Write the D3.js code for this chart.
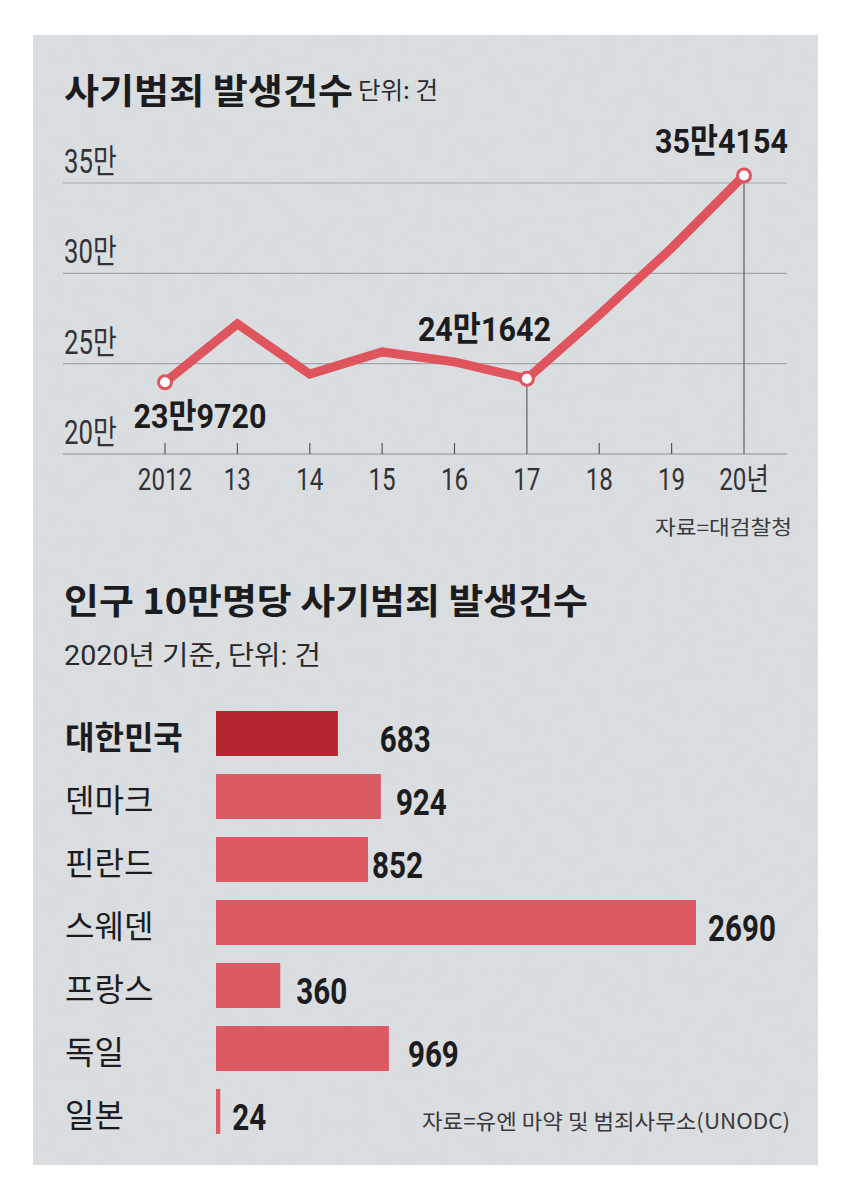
<!DOCTYPE html>
<html>
<head>
<meta charset="utf-8">
<script src="https://cdn.jsdelivr.net/npm/d3@7"></script>
<style>
  html, body { margin: 0; padding: 0; background: #ffffff; }
  svg { display: block; }
</style>
</head>
<body>
<svg id="chart" width="850" height="1180"></svg>
<script>
// ---------------- DATA ----------------
const years = [2012, 2013, 2014, 2015, 2016, 2017, 2018, 2019, 2020];
const yearLabels = ["2012", "13", "14", "15", "16", "17", "18", "19", "20년"];
const fraudCounts = [239720, 272000, 244200, 256500, 251000, 241642, 277000, 314000, 354154];
const yTicks = [200000, 250000, 300000, 350000];
const yTickLabels = ["20만", "25만", "30만", "35만"];
const markedYears = [2012, 2017, 2020];
const markedLabels = ["23만9720", "24만1642", "35만4154"];

const countries = ["대한민국", "덴마크", "핀란드", "스웨덴", "프랑스", "독일", "일본"];
const fraudPer100k = [683, 924, 852, 2690, 360, 969, 24];

// ---------------- STYLE / LAYOUT ----------------
const FONT_KR = "'Noto Sans CJK KR', 'Noto Sans', sans-serif";
const FONT_DIGIT = "Roboto, 'Noto Sans CJK KR', sans-serif";
const LINE_RED = "#e0545d";
const BAR_RED = "#dc5a63";
const KOREA_RED = "#b3262f";
const INK = "#1c1c1e";
const TICK_INK = "#333336";

const svg = d3.select("#chart");

// background panel with concrete-like texture
const defs = svg.append("defs");
const f = defs.append("filter").attr("id", "grain").attr("x", 0).attr("y", 0).attr("width", "100%").attr("height", "100%");
f.append("feTurbulence").attr("type", "fractalNoise").attr("baseFrequency", 0.06).attr("numOctaves", 5).attr("seed", 7).attr("result", "n");
f.append("feColorMatrix").attr("in", "n").attr("type", "matrix")
  .attr("values", "0 0 0 0 0.6  0 0 0 0 0.62  0 0 0 0 0.65  1.4 0 0 0 -0.6");
svg.append("rect").attr("x", 33).attr("y", 35).attr("width", 785).attr("height", 1130).attr("fill", "#dadee1");
svg.append("rect").attr("x", 33).attr("y", 35).attr("width", 785).attr("height", 1130)
  .attr("filter", "url(#grain)").attr("opacity", 0.25);

// text helper: optional horizontal squeeze (newspaper condensed face)
function txt(parent, str, o) {
  const t = parent.append("text")
    .attr("y", o.y)
    .attr("fill", o.fill || INK)
    .attr("font-family", o.digits ? FONT_DIGIT : FONT_KR)
    .attr("font-size", o.size)
    .attr("font-weight", o.weight || 400)
    .text(str);
  const L = t.node().getComputedTextLength();
  let w = L;
  if (o.width) w = o.width;
  else if (o.squeeze) w = L * o.squeeze;
  if (w !== L) t.attr("textLength", w).attr("lengthAdjust", "spacingAndGlyphs");
  let x0 = o.x;
  if (o.anchor === "middle") x0 -= w / 2;
  else if (o.anchor === "end") x0 -= w;
  t.attr("x", x0);
  return t;
}

// ---------------- LINE CHART ----------------
const x = d3.scalePoint().domain(years).range([165, 744]);
const y = d3.scaleLinear().domain([200000, 350000]).range([454, 183]);
const gridX0 = 63, gridX1 = 787;

txt(svg, "사기범죄 발생건수", { x: 64, y: 104, size: 35, weight: 700, width: 289 });
txt(svg, "단위: 건", { x: 358, y: 99, size: 24, fill: "#2a2a2c", width: 80 });

const gLine = svg.append("g");

// gridlines
gLine.selectAll("line.grid").data(yTicks).join("line")
  .attr("class", "grid")
  .attr("x1", gridX0).attr("x2", gridX1)
  .attr("y1", d => y(d)).attr("y2", d => y(d))
  .attr("stroke", d => d === 200000 ? "#8a8d90" : "#a3a6a9")
  .attr("stroke-width", 1.2);

// y tick labels
yTicks.forEach((d, i) => {
  txt(gLine, yTickLabels[i], { x: 64, y: y(d) - 10, size: 33, digits: true, squeeze: 0.78, fill: TICK_INK });
});

// x axis ticks
gLine.selectAll("line.xtick").data(years.filter(d => !markedYears.slice(1).includes(d))).join("line")
  .attr("class", "xtick")
  .attr("x1", d => x(d)).attr("x2", d => x(d))
  .attr("y1", y(200000) - 11).attr("y2", y(200000))
  .attr("stroke", "#555").attr("stroke-width", 1.2);

years.forEach((d, i) => {
  txt(gLine, yearLabels[i], { x: x(d), y: 490, size: 31, digits: true, squeeze: 0.78, anchor: "middle", fill: TICK_INK });
});

// guide lines for 2017, 2020
const guides = markedYears.slice(1);
gLine.selectAll("line.guide").data(guides).join("line")
  .attr("class", "guide")
  .attr("x1", d => x(d)).attr("x2", d => x(d))
  .attr("y1", d => y(fraudCounts[years.indexOf(d)])).attr("y2", y(200000))
  .attr("stroke", "#5e6063").attr("stroke-width", 1.2);

// the line
const series = years.map((yr, i) => ({ yr, v: fraudCounts[i] }));
gLine.append("path").datum(series)
  .attr("fill", "none")
  .attr("stroke", LINE_RED)
  .attr("stroke-width", 9)
  .attr("stroke-linejoin", "miter")
  .attr("d", d3.line().x(d => x(d.yr)).y(d => y(d.v)));

// markers
gLine.selectAll("circle.mk").data(series.filter(d => markedYears.includes(d.yr))).join("circle")
  .attr("class", "mk")
  .attr("cx", d => x(d.yr)).attr("cy", d => y(d.v))
  .attr("r", 6.5)
  .attr("fill", "#ffffff")
  .attr("stroke", LINE_RED)
  .attr("stroke-width", 3);

// value labels
const labelPlace = [
  { dx: 35, dy: 46, anchor: "middle" },
  { dx: 24, dy: -38, anchor: "end" },
  { dx: 44, dy: -22, anchor: "end" }
];
markedYears.forEach((yr, i) => {
  const v = fraudCounts[years.indexOf(yr)];
  const p = labelPlace[i];
  txt(gLine, markedLabels[i], { x: x(yr) + p.dx, y: y(v) + p.dy, size: 34, digits: true, weight: 700, width: 133, anchor: p.anchor });
});

txt(svg, "자료=대검찰청", { x: 792, y: 535, size: 20, anchor: "end", fill: "#3a3a3c", width: 137 });

// ---------------- BAR CHART ----------------
txt(svg, "인구 10만명당 사기범죄 발생건수", { x: 64, y: 614, size: 35, weight: 700, width: 524 });
txt(svg, "2020년 기준, 단위: 건", { x: 64, y: 665, size: 27, digits: true, fill: "#2a2a2c", width: 257 });

const yb = d3.scaleBand().domain(countries).range([702, 1143]).paddingInner(18 / 63).paddingOuter(9 / 63);
const xb = d3.scaleLinear().domain([0, 2690]).range([216, 696]);
const labelGap = [42, 15, 4, 12, 16, 19, 12];

const gBar = svg.append("g");
const bars = countries.map((c, i) => ({ c, v: fraudPer100k[i], i }));

gBar.selectAll("rect.bar").data(bars).join("rect")
  .attr("class", "bar")
  .attr("x", xb(0))
  .attr("y", d => yb(d.c))
  .attr("width", d => xb(d.v) - xb(0))
  .attr("height", yb.bandwidth())
  .attr("fill", d => d.i === 0 ? KOREA_RED : BAR_RED);

bars.forEach(d => {
  const cy = yb(d.c) + yb.bandwidth() / 2;
  txt(gBar, d.c, { x: 65, y: cy + 15, size: 32, weight: d.i === 0 ? 700 : 400, fill: INK });
  txt(gBar, String(d.v), { x: xb(d.v) + labelGap[d.i], y: cy + 18, size: 37, digits: true, squeeze: 0.8, weight: 700 });
});

txt(svg, "자료=유엔 마약 및 범죄사무소(UNODC)", { x: 790, y: 1129, size: 21, anchor: "end", fill: "#3a3a3c", width: 368 });
</script>
</body>
</html>
